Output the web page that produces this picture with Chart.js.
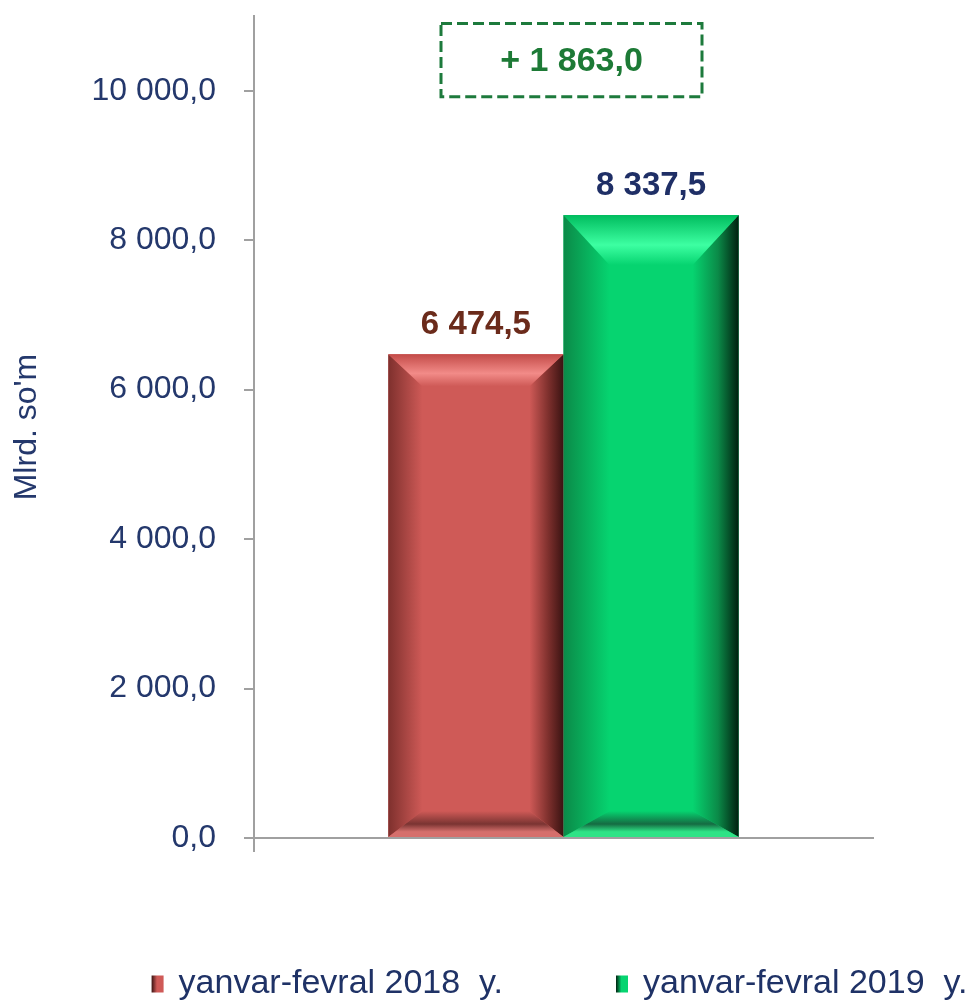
<!DOCTYPE html>
<html>
<head>
<meta charset="utf-8">
<script src="https://cdn.jsdelivr.net/npm/chart.js@4/dist/chart.umd.min.js"></script>
<style>
  body { margin: 0; background: #fff; }
  canvas { display: block; }
</style>
</head>
<body>
<canvas id="revenueChart" width="971" height="1000"></canvas>
<script>
const seriesLabels = ["yanvar-fevral 2018  y.", "yanvar-fevral 2019  y."];
const seriesValues = [6474.5, 8337.5];
const yTicks = [0, 2000, 4000, 6000, 8000, 10000];
const yMax = 11000;
const axisTitle = "Mlrd. so'm";

const barColors = ["#CF5A57", "#06D470"];
const edgeDark = ["#7E302D", "#0B8A48"];
const edgeBlack = ["#3A1312", "#00200F"];
const topLight = ["#F28B88", "#3DFFA2"];
const topEdge = ["#C34B48", "#00BC5E"];
const bottomDark = ["#7A3432", "#156B42"];
const bottomLight = ["#D56F6C", "#2EE386"];
const bevelTop = [32, 50];
const bevelSide = [34, 46];
const bevelBottom = [26, 26];
const labelColors = ["#6B2B1B", "#1F2F66"];
const navy = "#24386C";
const FONT = "'Liberation Sans', Arial, sans-serif";

function fmt(v) {
  const parts = v.toFixed(1).split(".");
  return parts[0].replace(/\B(?=(\d{3})+(?!\d))/g, " ") + "," + parts[1];
}

const bevelPlugin = {
  id: "bevel",
  afterDatasetsDraw(chart) {
    const ctx = chart.ctx;
    chart.data.datasets.forEach((ds, di) => {
      const bar = chart.getDatasetMeta(di).data[0];
      const l = bar.x - bar.width / 2, r = bar.x + bar.width / 2;
      const t = bar.y, b = bar.base;
      const bt = bevelTop[di], bs = bevelSide[di], bb = bevelBottom[di];
      ctx.save();
      // left
      let g = ctx.createLinearGradient(l, 0, l + bs, 0);
      g.addColorStop(0, edgeDark[di]);
      g.addColorStop(1, barColors[di]);
      ctx.fillStyle = g;
      ctx.beginPath();
      ctx.moveTo(l, t); ctx.lineTo(l + bs, t + bt); ctx.lineTo(l + bs, b - bb); ctx.lineTo(l, b);
      ctx.closePath(); ctx.fill();
      // right
      g = ctx.createLinearGradient(r - bs, 0, r, 0);
      g.addColorStop(0, barColors[di]);
      g.addColorStop(0.55, edgeDark[di]);
      g.addColorStop(1, edgeBlack[di]);
      ctx.fillStyle = g;
      ctx.beginPath();
      ctx.moveTo(r, t); ctx.lineTo(r - bs, t + bt); ctx.lineTo(r - bs, b - bb); ctx.lineTo(r, b);
      ctx.closePath(); ctx.fill();
      // top
      g = ctx.createLinearGradient(0, t, 0, t + bt);
      g.addColorStop(0, topEdge[di]);
      g.addColorStop(0.6, topLight[di]);
      g.addColorStop(1, barColors[di]);
      ctx.fillStyle = g;
      ctx.beginPath();
      ctx.moveTo(l, t); ctx.lineTo(r, t); ctx.lineTo(r - bs, t + bt); ctx.lineTo(l + bs, t + bt);
      ctx.closePath(); ctx.fill();
      // bottom
      g = ctx.createLinearGradient(0, b - bb, 0, b);
      g.addColorStop(0, barColors[di]);
      g.addColorStop(0.5, bottomDark[di]);
      g.addColorStop(0.8, bottomLight[di]);
      g.addColorStop(1, bottomLight[di]);
      ctx.fillStyle = g;
      ctx.beginPath();
      ctx.moveTo(l, b); ctx.lineTo(r, b); ctx.lineTo(r - bs, b - bb); ctx.lineTo(l + bs, b - bb);
      ctx.closePath(); ctx.fill();

      // value label
      ctx.fillStyle = labelColors[di];
      ctx.font = "bold 33px " + FONT;
      ctx.textAlign = "center";
      ctx.textBaseline = "middle";
      ctx.fillText(fmt(ds.data[0]), bar.x, t - 29);
      ctx.restore();
    });
  },
};

const diffPlugin = {
  id: "diffBox",
  afterDraw(chart) {
    const ctx = chart.ctx;
    const x = chart.scales.x.getPixelForValue(0) + 8;
    const y1 = chart.scales.y.getPixelForValue(10900);
    const y2 = chart.scales.y.getPixelForValue(9920);
    const w = 261;
    ctx.save();
    ctx.strokeStyle = "#1D7A3C";
    ctx.lineWidth = 3;
    ctx.setLineDash([11, 5]);
    ctx.strokeRect(x - w / 2, y1, w, y2 - y1);
    ctx.setLineDash([]);
    ctx.fillStyle = "#1D7A36";
    ctx.font = "bold 34px " + FONT;
    ctx.textAlign = "center";
    ctx.textBaseline = "middle";
    ctx.fillText("+ " + fmt(seriesValues[1] - seriesValues[0]), x, (y1 + y2) / 2 + 2);
    ctx.restore();
  },
};

const legendPlugin = {
  id: "bottomLegend",
  afterDraw(chart) {
    const ctx = chart.ctx;
    const area = chart.chartArea;
    ctx.save();
    ctx.font = "34px " + FONT;
    ctx.textBaseline = "middle";
    ctx.textAlign = "left";
    const boxW = 12, boxH = 17, gap = 15, itemGap = 113;
    const widths = seriesLabels.map((s) => boxW + gap + ctx.measureText(s).width);
    const total = widths.reduce((a, b) => a + b, 0) + itemGap;
    let x = (area.left + area.right) / 2 - total / 2 - 4;
    const y = 984;
    seriesLabels.forEach((s, i) => {
      const g = ctx.createLinearGradient(x, 0, x + boxW, 0);
      g.addColorStop(0, edgeBlack[i]);
      g.addColorStop(0.45, barColors[i]);
      g.addColorStop(1, barColors[i]);
      ctx.fillStyle = g;
      ctx.fillRect(x, y - boxH / 2, boxW, boxH);
      ctx.fillStyle = "#1F3266";
      ctx.fillText(s, x + boxW + gap, y);
      x += widths[i] + itemGap;
    });
    ctx.restore();
  },
};

new Chart("revenueChart", {
  type: "bar",
  data: {
    labels: [""],
    datasets: seriesLabels.map((label, i) => ({
      label: label,
      data: [seriesValues[i]],
      backgroundColor: barColors[i],
      borderWidth: 0,
    })),
  },
  options: {
    responsive: false,
    animation: false,
    devicePixelRatio: 1,
    categoryPercentage: 0.566,
    barPercentage: 1,
    layout: { padding: { top: 16, right: 98, bottom: 148, left: 0 } },
    plugins: {
      legend: { display: false },
      tooltip: { enabled: false },
    },
    scales: {
      x: {
        ticks: { display: false },
        grid: {
          drawOnChartArea: false,
          offset: true,
          tickLength: 14,
          lineWidth: 2,
          color: (c) => (c.index === 0 ? "#A0A0A0" : "transparent"),
        },
        border: { color: "#A0A0A0", width: 2 },
      },
      y: {
        min: 0,
        max: yMax,
        afterBuildTicks: (s) => {
          s.ticks = yTicks.map((v) => ({ value: v }));
        },
        afterFit: (s) => {
          s.width = 254;
          s.paddingTop = 0;
          s.paddingBottom = 0;
        },
        ticks: {
          padding: 28,
          color: navy,
          font: { family: FONT, size: 32 },
          callback: (v) => fmt(v),
        },
        grid: {
          drawOnChartArea: false,
          tickLength: 10,
          lineWidth: 2,
          color: "#A0A0A0",
        },
        border: { color: "#A0A0A0", width: 2 },
        title: {
          display: true,
          text: axisTitle,
          color: navy,
          font: { family: FONT, size: 32 },
          padding: { top: 8, bottom: 0 },
        },
      },
    },
  },
  plugins: [bevelPlugin, diffPlugin, legendPlugin],
});
</script>
</body>
</html>
